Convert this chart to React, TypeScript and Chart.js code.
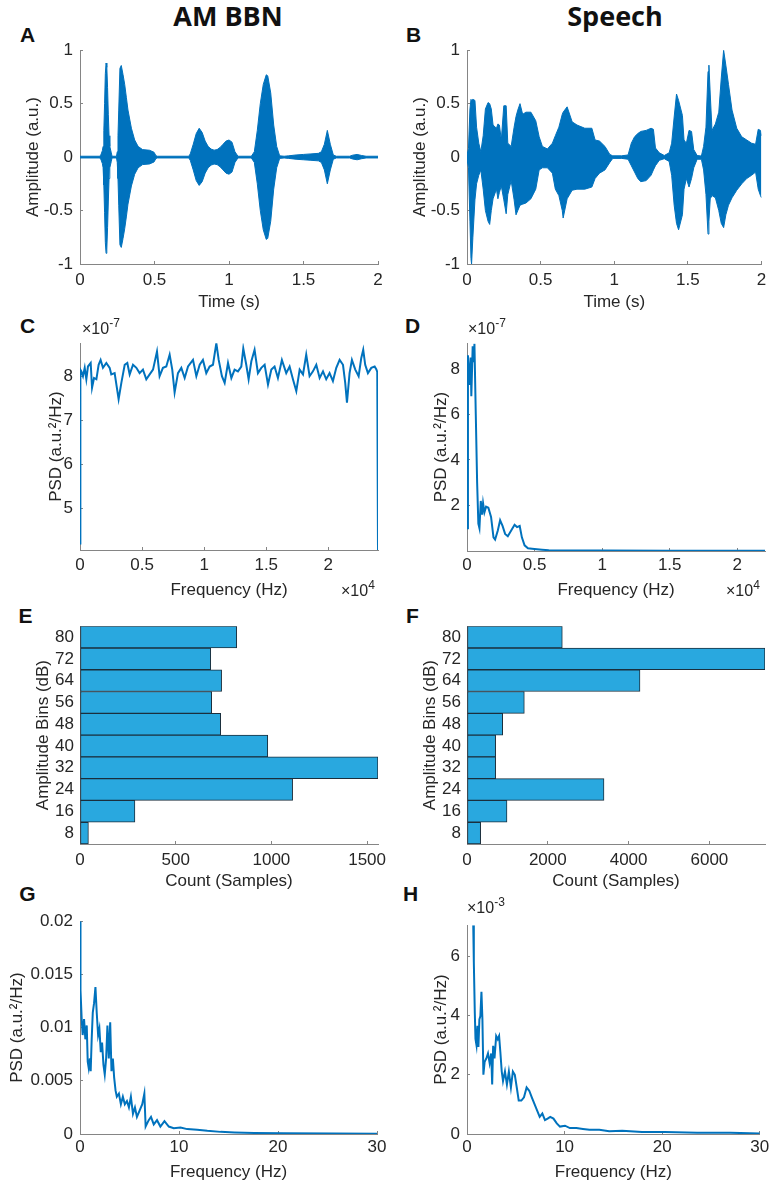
import React, { useEffect, useRef } from "react";
import { Chart, registerables } from "chart.js";
Chart.register(...registerables);

const FONT = "'Liberation Sans', Arial, Helvetica, sans-serif";
const TXT = "#262626";
const AXIS = "#858585";
const BLUE = "#0072BD";
const BAR_FILL = "#29A8DF";
const BAR_EDGE = "#1b2f3d";

// ---------- Panel A: AM BBN waveform envelope (amplitude, a.u.) ----------
const timeA = [0, 0.13, 0.14, 0.15, 0.155, 0.16, 0.165, 0.17, 0.175, 0.18, 0.185, 0.19, 0.195, 0.2, 0.21, 0.215, 0.245, 0.25, 0.255, 0.26, 0.268, 0.277, 0.289, 0.3, 0.311, 0.322, 0.345, 0.367, 0.39, 0.42, 0.467, 0.497, 0.51, 0.52, 0.73, 0.74, 0.76, 0.78, 0.8, 0.82, 0.84, 0.86, 0.88, 0.9, 0.92, 0.94, 0.96, 0.98, 1.0, 1.02, 1.04, 1.06, 1.15, 1.17, 1.19, 1.21, 1.23, 1.25, 1.26, 1.28, 1.3, 1.32, 1.34, 1.37, 1.4, 1.45, 1.5, 1.55, 1.6, 1.62, 1.64, 1.66, 1.68, 1.7, 1.72, 1.81, 1.83, 1.86, 1.89, 1.92, 2.0];
const upperA = [0.008, 0.008, 0.02, 0.06, 0.1, 0.25, 0.5, 0.78, 0.88, 0.84, 0.65, 0.4, 0.2, 0.1, 0.04, 0.008, 0.008, 0.05, 0.2, 0.44, 0.83, 0.857, 0.77, 0.68, 0.56, 0.44, 0.27, 0.16, 0.1, 0.07, 0.064, 0.045, 0.012, 0.008, 0.008, 0.03, 0.12, 0.22, 0.27, 0.23, 0.15, 0.1, 0.075, 0.065, 0.07, 0.09, 0.12, 0.15, 0.16, 0.14, 0.05, 0.008, 0.008, 0.05, 0.25, 0.5, 0.68, 0.77, 0.76, 0.6, 0.3, 0.1, 0.012, 0.008, 0.012, 0.02, 0.025, 0.03, 0.035, 0.05, 0.12, 0.25, 0.12, 0.02, 0.008, 0.008, 0.018, 0.025, 0.015, 0.008, 0.008];
const lowerA = [-0.008, -0.008, -0.02, -0.06, -0.1, -0.26, -0.52, -0.8, -0.9, -0.86, -0.66, -0.42, -0.2, -0.1, -0.04, -0.008, -0.008, -0.05, -0.2, -0.45, -0.82, -0.845, -0.76, -0.67, -0.56, -0.44, -0.27, -0.16, -0.1, -0.07, -0.064, -0.045, -0.012, -0.008, -0.008, -0.03, -0.12, -0.22, -0.265, -0.23, -0.15, -0.1, -0.075, -0.065, -0.07, -0.09, -0.12, -0.15, -0.16, -0.14, -0.05, -0.008, -0.008, -0.05, -0.25, -0.5, -0.68, -0.77, -0.76, -0.6, -0.3, -0.1, -0.012, -0.008, -0.012, -0.02, -0.025, -0.03, -0.035, -0.05, -0.12, -0.25, -0.12, -0.02, -0.008, -0.008, -0.018, -0.025, -0.015, -0.008, -0.008];

// ---------- Panel B: Speech waveform envelope ----------
const timeB = [0, 0.01, 0.02, 0.027, 0.031, 0.04, 0.054, 0.065, 0.08, 0.094, 0.11, 0.125, 0.143, 0.154, 0.165, 0.177, 0.2, 0.21, 0.22, 0.233, 0.25, 0.266, 0.277, 0.3, 0.32, 0.333, 0.345, 0.36, 0.378, 0.4, 0.434, 0.467, 0.49, 0.512, 0.546, 0.58, 0.6, 0.624, 0.647, 0.653, 0.68, 0.714, 0.747, 0.8, 0.848, 0.87, 0.9, 0.937, 0.97, 0.99, 1.05, 1.094, 1.116, 1.138, 1.16, 1.18, 1.217, 1.25, 1.266, 1.28, 1.306, 1.34, 1.373, 1.39, 1.407, 1.423, 1.437, 1.463, 1.474, 1.49, 1.508, 1.525, 1.54, 1.563, 1.592, 1.607, 1.623, 1.637, 1.643, 1.652, 1.664, 1.687, 1.71, 1.727, 1.743, 1.758, 1.776, 1.8, 1.832, 1.866, 1.9, 1.933, 1.96, 1.978, 1.993, 2.0];
const upperB = [0.02, 0.08, 0.45, 0.54, 0.53, 0.54, 0.53, 0.28, 0.13, 0.05, 0.2, 0.45, 0.51, 0.5, 0.45, 0.3, 0.27, 0.31, 0.3, 0.16, 0.48, 0.48, 0.13, 0.1, 0.28, 0.38, 0.44, 0.5, 0.4, 0.42, 0.42, 0.34, 0.19, 0.1, 0.076, 0.13, 0.2, 0.28, 0.4, 0.42, 0.47, 0.33, 0.3, 0.27, 0.27, 0.16, 0.15, 0.1, 0.025, 0.012, 0.012, 0.02, 0.13, 0.19, 0.22, 0.24, 0.25, 0.27, 0.26, 0.085, 0.04, 0.015, 0.04, 0.13, 0.375, 0.59, 0.53, 0.39, 0.16, 0.13, 0.25, 0.24, 0.07, 0.015, 0.01, 0.1, 0.28, 0.8, 0.86, 0.59, 0.25, 0.31, 0.42, 0.74, 1.0, 0.86, 0.68, 0.44, 0.27, 0.19, 0.16, 0.13, 0.12, 0.26, 0.25, 0.2];
const lowerB = [-0.02, -0.1, -0.6, -0.95, -1.0, -0.75, -0.4, -0.25, -0.17, -0.12, -0.3, -0.5, -0.6, -0.63, -0.5, -0.39, -0.3, -0.39, -0.33, -0.27, -0.4, -0.53, -0.35, -0.22, -0.4, -0.54, -0.5, -0.45, -0.44, -0.43, -0.39, -0.3, -0.12, -0.1, -0.1, -0.15, -0.3, -0.36, -0.5, -0.57, -0.39, -0.31, -0.3, -0.3, -0.28, -0.2, -0.15, -0.12, -0.05, -0.012, -0.012, -0.02, -0.08, -0.14, -0.2, -0.23, -0.22, -0.17, -0.12, -0.08, -0.03, -0.015, -0.04, -0.17, -0.45, -0.62, -0.68, -0.54, -0.3, -0.2, -0.28, -0.2, -0.1, -0.02, -0.02, -0.12, -0.35, -0.72, -0.6, -0.39, -0.36, -0.38, -0.5, -0.62, -0.66, -0.54, -0.45, -0.38, -0.31, -0.25, -0.2, -0.17, -0.14, -0.3, -0.36, -0.38];

// ---------- Panel C: AM BBN PSD (x in 1e4 Hz, y in 1e-7 a.u.^2/Hz) ----------
const freqC = [0, 0.003, 0.011, 0.024, 0.038, 0.051, 0.064, 0.086, 0.097, 0.113, 0.132, 0.15, 0.166, 0.185, 0.212, 0.239, 0.252, 0.279, 0.311, 0.333, 0.36, 0.381, 0.4, 0.427, 0.454, 0.48, 0.507, 0.534, 0.561, 0.588, 0.62, 0.641, 0.668, 0.695, 0.722, 0.743, 0.762, 0.789, 0.816, 0.843, 0.87, 0.91, 0.937, 0.964, 0.99, 1.017, 1.044, 1.071, 1.098, 1.117, 1.143, 1.165, 1.192, 1.219, 1.245, 1.272, 1.299, 1.315, 1.339, 1.358, 1.38, 1.406, 1.433, 1.46, 1.487, 1.514, 1.541, 1.567, 1.594, 1.626, 1.661, 1.688, 1.715, 1.742, 1.769, 1.796, 1.822, 1.849, 1.876, 1.903, 1.93, 1.957, 1.983, 2.01, 2.037, 2.064, 2.091, 2.118, 2.136, 2.15, 2.171, 2.19, 2.217, 2.244, 2.265, 2.281, 2.297, 2.319, 2.346, 2.373, 2.386, 2.394, 2.4];
const psdC = [4.2, 8.15, 8.11, 8.0, 8.19, 7.93, 8.22, 8.3, 7.74, 7.96, 7.93, 8.26, 8.37, 8.19, 8.3, 8.19, 8.04, 8.07, 7.48, 7.85, 8.26, 8.3, 8.04, 8.26, 8.19, 8.07, 8.15, 7.93, 8.04, 8.15, 8.56, 8.0, 8.19, 8.22, 8.49, 8.15, 7.63, 8.07, 8.19, 7.96, 8.22, 8.37, 8.0, 8.26, 8.37, 8.07, 8.22, 8.26, 8.75, 8.37, 8.0, 7.85, 8.3, 7.96, 8.15, 8.11, 8.22, 8.63, 8.26, 7.93, 8.34, 8.6, 8.07, 8.19, 8.26, 7.81, 8.15, 8.22, 7.96, 8.37, 8.07, 8.22, 7.93, 7.66, 8.15, 8.04, 8.49, 8.0, 8.11, 8.26, 7.96, 8.11, 7.93, 8.07, 7.89, 8.19, 8.37, 8.26, 7.85, 7.4, 8.07, 8.37, 8.15, 8.0, 8.41, 8.6, 8.26, 8.07, 8.19, 8.22, 8.16, 8.1, 4.05];

// ---------- Panel D: Speech PSD ----------
const freqD = [0, 0.007, 0.017, 0.027, 0.032, 0.042, 0.05, 0.055, 0.065, 0.075, 0.084, 0.092, 0.102, 0.112, 0.119, 0.129, 0.141, 0.158, 0.178, 0.196, 0.208, 0.228, 0.245, 0.263, 0.282, 0.302, 0.327, 0.352, 0.37, 0.39, 0.406, 0.426, 0.451, 0.481, 0.518, 0.555, 0.605, 0.654, 0.8, 1.0, 1.5, 2.205];
const psdD = [1.0, 8.6, 7.3, 8.5, 6.8, 9.0, 8.3, 9.1, 6.0, 3.0, 1.2, 1.0, 2.2, 1.6, 2.1, 1.7, 1.95, 1.9, 1.5, 0.6, 0.5, 0.9, 1.35, 1.1, 0.75, 0.65, 0.9, 1.15, 1.05, 1.1, 0.6, 0.25, 0.12, 0.1, 0.08, 0.06, 0.03, 0.02, 0.02, 0.02, 0.015, 0.01];

// ---------- Panels E, F: amplitude histograms ----------
const binLabels = ["80", "72", "64", "56", "48", "40", "32", "24", "16", "8"];
const countsE = [819, 683, 740, 688, 735, 981, 1557, 1111, 287, 44];
const countsF = [2359, 7376, 4282, 1419, 883, 709, 709, 3391, 990, 338];

// ---------- Panel G: AM BBN modulation PSD ----------
const freqG = [0, 0.05, 0.17, 0.27, 0.41, 0.54, 0.68, 0.78, 0.88, 1.0, 1.08, 1.18, 1.29, 1.42, 1.56, 1.69, 1.83, 1.96, 2.1, 2.23, 2.37, 2.5, 2.64, 2.77, 2.91, 3.05, 3.18, 3.32, 3.45, 3.59, 3.72, 3.93, 4.13, 4.33, 4.53, 4.74, 4.94, 5.14, 5.35, 5.55, 5.75, 6.02, 6.29, 6.5, 6.63, 6.94, 7.17, 7.45, 7.78, 8.12, 8.53, 8.97, 9.47, 10.15, 10.83, 11.84, 12.86, 14.2, 15.6, 17.6, 20.6, 25.7, 30];
const psdG = [0.02, 0.0135, 0.0108, 0.0093, 0.0108, 0.0089, 0.0102, 0.0068, 0.0062, 0.0071, 0.0059, 0.0089, 0.0114, 0.0123, 0.0138, 0.0114, 0.0093, 0.0099, 0.0077, 0.0086, 0.0065, 0.0056, 0.0071, 0.0102, 0.0071, 0.0105, 0.0059, 0.0071, 0.0053, 0.0041, 0.0035, 0.0038, 0.0028, 0.0035, 0.0028, 0.0031, 0.0025, 0.0035, 0.0019, 0.0025, 0.0016, 0.0022, 0.0028, 0.0038, 0.0007, 0.0013, 0.0016, 0.0009, 0.0013, 0.0007, 0.0012, 0.0007, 0.00055, 0.0006, 0.00046, 0.0004, 0.0003, 0.0002, 0.00015, 0.0001, 0.00006, 0.00004, 0.00003];

// ---------- Panel H: Speech modulation PSD (y in 1e-3) ----------
const freqH = [0.64, 0.7, 0.8, 0.87, 0.97, 1.07, 1.17, 1.27, 1.37, 1.48, 1.58, 1.68, 1.81, 1.98, 2.15, 2.32, 2.48, 2.58, 2.68, 2.82, 2.99, 3.15, 3.29, 3.42, 3.56, 3.69, 3.89, 4.09, 4.29, 4.5, 4.7, 4.9, 5.1, 5.3, 5.57, 5.84, 6.11, 6.38, 6.64, 6.91, 7.18, 7.45, 7.72, 7.99, 8.26, 8.53, 8.86, 9.2, 9.53, 10.04, 10.54, 11.21, 11.88, 12.55, 13.56, 14.57, 15.91, 17.93, 20.28, 23.6, 27, 30];
const psdH = [7.05, 5.8, 4.09, 3.21, 3.0, 3.65, 2.94, 3.87, 3.98, 4.8, 3.87, 2.0, 2.44, 2.55, 2.72, 2.39, 2.72, 1.67, 2.98, 2.55, 3.31, 3.2, 3.31, 2.76, 2.11, 1.79, 2.11, 1.67, 2.11, 1.57, 2.11, 2.0, 1.57, 1.13, 1.13, 1.24, 1.57, 1.46, 1.24, 1.02, 0.8, 0.58, 0.69, 0.47, 0.52, 0.58, 0.52, 0.36, 0.25, 0.28, 0.2, 0.2, 0.17, 0.14, 0.14, 0.09, 0.11, 0.07, 0.07, 0.04, 0.04, 0.02];

// ---------- Tick values and labels ----------
const ticksHalf = [0, 0.5, 1, 1.5, 2];
const labelsHalf = ["0", "0.5", "1", "1.5", "2"];
const ticksAmp = [-1, -0.5, 0, 0.5, 1];
const labelsAmp = ["-1", "-0.5", "0", "0.5", "1"];
const ticksPsdC = [5, 6, 7, 8];
const ticksPsdD = [2, 4, 6, 8];
const ticksCountE = [0, 500, 1000, 1500];
const ticksCountF = [0, 2000, 4000, 6000];
const ticksMod = [0, 10, 20, 30];
const ticksPsdG = [0, 0.005, 0.01, 0.015, 0.02];
const labelsPsdG = ["0", "0.005", "0.01", "0.015", "0.02"];
const ticksPsdH = [0, 2, 4, 6];

const FS = 17;
const LH = FS * 1.2;
const tickFont = { family: FONT, size: FS };

type Geo = { l: number; t: number; r: number; b: number; yTitleX: number; xTitleY: number; xGap: number; padRight: number };

function layoutOf(g: Geo) {
  const left = Math.floor(g.yTitleX - 14);
  const top = g.t - 15;
  const right = g.r + g.padRight;
  const bottom = Math.round(g.xTitleY + 12);
  return {
    left, top, width: right - left, height: bottom - top,
    yAxisW: g.l - left, xAxisH: bottom - g.b, padRight: g.padRight,
    yTitlePad: g.yTitleX - left - LH / 2,
    xTitlePad: bottom - g.xTitleY - LH / 2,
    xTickPad: g.xGap + 3 - LH / 2,
  };
}

function linearAxis(isX: boolean, L: any, min: number, max: number, values: number[], labels: string[], title: string) {
  return {
    type: "linear",
    position: isX ? "bottom" : "left",
    min, max,
    afterBuildTicks: (s: any) => { s.ticks = values.map((v) => ({ value: v })); },
    afterFit: (s: any) => { if (isX) s.height = L.xAxisH; else s.width = L.yAxisW; },
    ticks: { autoSkip: false, maxRotation: 0, minRotation: 0, color: TXT, font: tickFont, padding: isX ? L.xTickPad : 10, callback: (_v: any, i: number) => labels[i] },
    grid: { display: true, drawOnChartArea: false, drawTicks: true, tickLength: -3, color: AXIS, lineWidth: 1 },
    border: { display: true, color: AXIS, width: 1 },
    title: { display: true, text: title, color: TXT, font: tickFont, padding: isX ? { top: 0, bottom: L.xTitlePad } : { top: L.yTitlePad, bottom: 0 } },
  };
}

function baseOptions(L: any) {
  return {
    responsive: false,
    maintainAspectRatio: false,
    animation: false,
    devicePixelRatio: 1,
    layout: { padding: { left: 0, top: 15, right: L.padRight, bottom: 0 } },
    plugins: { legend: { display: false }, tooltip: { enabled: false }, title: { display: false } },
    elements: { point: { radius: 0 }, line: { tension: 0 } },
  };
}

function pts(xs: number[], ys: number[]) {
  return xs.map((x, i) => ({ x, y: ys[i] }));
}

function waveConfig(L: any, t: number[], up: number[], lo: number[]) {
  return {
    type: "line",
    data: {
      datasets: [
        { data: pts(t, up), borderColor: BLUE, backgroundColor: BLUE, borderWidth: 1, fill: "+1", pointRadius: 0 },
        { data: pts(t, lo), borderColor: BLUE, backgroundColor: BLUE, borderWidth: 1, fill: false, pointRadius: 0 },
      ],
    },
    options: {
      ...baseOptions(L),
      scales: {
        x: linearAxis(true, L, 0, 2, ticksHalf, labelsHalf, "Time (s)"),
        y: linearAxis(false, L, -1, 1, ticksAmp, labelsAmp, "Amplitude (a.u.)"),
      },
    },
  };
}

function psdConfig(L: any, xs: number[], ys: number[], xr: number[], yr: number[], xt: number[], xl: string[], yt: number[], yl: string[], xTitle: string) {
  return {
    type: "line",
    data: { datasets: [{ data: pts(xs, ys), borderColor: BLUE, borderWidth: 2, fill: false, pointRadius: 0 }] },
    options: {
      ...baseOptions(L),
      scales: {
        x: linearAxis(true, L, xr[0], xr[1], xt, xl, xTitle),
        y: linearAxis(false, L, yr[0], yr[1], yt, yl, "PSD (a.u.\u00B2/Hz)"),
      },
    },
  };
}

function histConfig(L: any, counts: number[], max: number, xt: number[]) {
  return {
    type: "bar",
    data: {
      labels: binLabels,
      datasets: [{ data: counts, backgroundColor: BAR_FILL, borderColor: BAR_EDGE, borderWidth: 1, borderSkipped: false, barPercentage: 1, categoryPercentage: 1 }],
    },
    options: {
      ...baseOptions(L),
      indexAxis: "y",
      scales: {
        x: linearAxis(true, L, 0, max, xt, xt.map(String), "Count (Samples)"),
        y: {
          type: "category",
          position: "left",
          afterFit: (s: any) => { s.width = L.yAxisW; },
          ticks: { autoSkip: false, color: TXT, font: tickFont, padding: 6 },
          grid: { display: false, drawTicks: false, drawOnChartArea: false },
          border: { display: true, color: AXIS, width: 1 },
          title: { display: true, text: "Amplitude Bins (dB)", color: TXT, font: tickFont, padding: { top: L.yTitlePad, bottom: 0 } },
        },
      },
    },
  };
}

const geoA: Geo = { l: 80, t: 45, r: 378, b: 264, yTitleX: 33, xTitleY: 302, xGap: 16, padRight: 22 };
const geoB: Geo = { l: 467, t: 45, r: 765, b: 264, yTitleX: 420, xTitleY: 302, xGap: 16, padRight: 10 };
const geoC: Geo = { l: 80, t: 338, r: 378, b: 550, yTitleX: 56, xTitleY: 590, xGap: 15, padRight: 22 };
const geoD: Geo = { l: 467, t: 338, r: 765, b: 551, yTitleX: 441, xTitleY: 590, xGap: 14, padRight: 10 };
const geoE: Geo = { l: 80, t: 625, r: 378, b: 844, yTitleX: 43, xTitleY: 881, xGap: 16, padRight: 22 };
const geoF: Geo = { l: 467, t: 625, r: 765, b: 844, yTitleX: 430, xTitleY: 881, xGap: 16, padRight: 10 };
const geoG: Geo = { l: 80, t: 916, r: 377, b: 1134, yTitleX: 17, xTitleY: 1172, xGap: 13, padRight: 22 };
const geoH: Geo = { l: 467, t: 920, r: 765, b: 1134, yTitleX: 441, xTitleY: 1172, xGap: 13, padRight: 10 };

function Panel({ geo, build }: { geo: Geo; build: (L: any) => any }) {
  const ref = useRef<HTMLCanvasElement>(null);
  const L = layoutOf(geo);
  useEffect(() => {
    const chart = new Chart(ref.current as HTMLCanvasElement, build(L) as any);
    return () => chart.destroy();
  }, []);
  return (
    <canvas
      ref={ref}
      width={L.width}
      height={L.height}
      style={{ position: "absolute", left: L.left, top: L.top, width: L.width, height: L.height, display: "block" }}
    />
  );
}

function Letter({ ch, x, y }: { ch: string; x: number; y: number }) {
  return (
    <div style={{ position: "absolute", left: x, top: y, transform: "translate(-50%,-50%)", font: `bold 21px ${FONT}`, lineHeight: "21px", color: "#111" }}>{ch}</div>
  );
}

function Heading({ text, x, y }: { text: string; x: number; y: number }) {
  return (
    <div style={{ position: "absolute", left: x, top: y, transform: "translate(-50%,-50%)", font: "bold 27px 'Open Sans', sans-serif", lineHeight: "27px", color: "#111", whiteSpace: "nowrap" }}>{text}</div>
  );
}

function Exp({ x, y, exp }: { x: number; y: number; exp: string }) {
  return (
    <div style={{ position: "absolute", left: x, top: y, font: `16px ${FONT}`, lineHeight: "16px", color: TXT, whiteSpace: "nowrap" }}>
      {"\u00D710"}
      <span style={{ fontSize: 12, position: "relative", top: -7 }}>{exp}</span>
    </div>
  );
}

export default function App() {
  return (
    <div style={{ position: "absolute", left: 0, top: 0, width: 775, height: 1185, background: "#fff", overflow: "hidden" }}>
      <Heading text="AM BBN" x={228} y={15} />
      <Heading text="Speech" x={615} y={15} />
      <Letter ch="A" x={27.5} y={33.5} />
      <Letter ch="B" x={413.5} y={33.5} />
      <Letter ch="C" x={27.5} y={324.5} />
      <Letter ch="D" x={412.5} y={324.5} />
      <Letter ch="E" x={25.5} y={614.5} />
      <Letter ch="F" x={412.5} y={615} />
      <Letter ch="G" x={27.5} y={892.5} />
      <Letter ch="H" x={410.5} y={892.5} />

      <Panel geo={geoA} build={(L) => waveConfig(L, timeA, upperA, lowerA)} />
      <Panel geo={geoB} build={(L) => waveConfig(L, timeB, upperB, lowerB)} />
      <Panel geo={geoC} build={(L) => psdConfig(L, freqC, psdC, [0, 2.4], [4.05, 8.75], ticksHalf, labelsHalf, ticksPsdC, ticksPsdC.map(String), "Frequency (Hz)")} />
      <Panel geo={geoD} build={(L) => psdConfig(L, freqD, psdD, [0, 2.205], [0, 9.13], ticksHalf, labelsHalf, ticksPsdD, ticksPsdD.map(String), "Frequency (Hz)")} />
      <Panel geo={geoE} build={(L) => histConfig(L, countsE, 1557, ticksCountE)} />
      <Panel geo={geoF} build={(L) => histConfig(L, countsF, 7376, ticksCountF)} />
      <Panel geo={geoG} build={(L) => psdConfig(L, freqG, psdG, [0, 30], [0, 0.02], ticksMod, ticksMod.map(String), ticksPsdG, labelsPsdG, "Frequency (Hz)")} />
      <Panel geo={geoH} build={(L) => psdConfig(L, freqH, psdH, [0, 30], [0, 7.05], ticksMod, ticksMod.map(String), ticksPsdH, ticksPsdH.map(String), "Frequency (Hz)")} />

      <Exp x={82} y={321} exp="-7" />
      <Exp x={468} y={321} exp="-7" />
      <Exp x={341} y={583} exp="4" />
      <Exp x={726} y={583} exp="4" />
      <Exp x={467} y={900} exp="-3" />
    </div>
  );
}
